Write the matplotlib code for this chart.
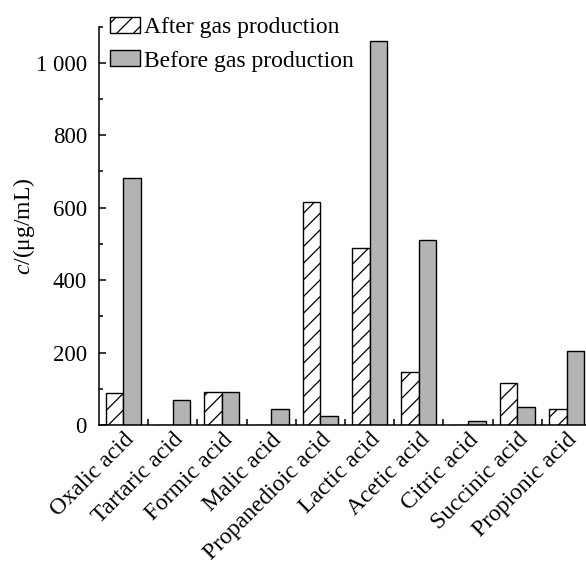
import numpy as np
import matplotlib

matplotlib.use("Agg")
import matplotlib.pyplot as plt
from matplotlib.ticker import MultipleLocator, FuncFormatter

plt.rcParams["font.family"] = ["Liberation Serif", "DejaVu Serif"]
plt.rcParams["mathtext.fontset"] = "custom"
plt.rcParams["mathtext.it"] = "Liberation Serif:italic"
plt.rcParams["mathtext.rm"] = "Liberation Serif"
plt.rcParams["hatch.linewidth"] = 0.9

acids = ["Oxalic acid", "Tartaric acid", "Formic acid", "Malic acid",
         "Propanedioic acid", "Lactic acid", "Acetic acid", "Citric acid",
         "Succinic acid", "Propionic acid"]
after_gas = [89, 0, 90, 0, 616, 488, 147, 0, 115, 43]
before_gas = [682, 69, 90, 44, 25, 1059, 511, 12, 49, 204]

x = np.arange(len(acids))
w = 0.355
fs = 17

W, H = 586, 563
fig = plt.figure(figsize=(W / 100, H / 100), dpi=100)
left, right, bottom, top = 98.8, 591.2, 425, 26.5
ax = fig.add_axes([left / W, 1 - bottom / H, (right - left) / W, (bottom - top) / H])

ax.bar(x - w / 2, after_gas, w, facecolor="white", edgecolor="black",
       linewidth=1, hatch="//", label="After gas production")
ax.bar(x + w / 2, before_gas, w, facecolor="#b3b3b3", edgecolor="black",
       linewidth=1, label="Before gas production")

ax.set_xlim(-0.5, 9.5)
ax.set_ylim(0, 1100)
ax.spines["top"].set_visible(False)
ax.spines["right"].set_visible(False)
for s in ("left", "bottom"):
    ax.spines[s].set_linewidth(1.1)

ax.yaxis.set_major_locator(MultipleLocator(200))
ax.yaxis.set_minor_locator(MultipleLocator(100))
ax.yaxis.set_major_formatter(FuncFormatter(
    lambda v, p: f"{int(v):,}".replace(",", " ")))
ax.tick_params(axis="y", which="major", direction="in", length=5, width=1.1,
               labelsize=16.5, pad=8.5)
ax.tick_params(axis="y", which="minor", direction="in", length=3, width=1.1)

ax.set_xticks(x)
ax.set_xticklabels(acids, rotation=45, ha="right", rotation_mode="anchor",
                   fontsize=fs)
ax.set_xticks(x[:-1] + 0.5, minor=True)
ax.tick_params(axis="x", which="major", length=0, pad=3)
ax.tick_params(axis="x", which="minor", direction="in", length=4, width=1.1)

ax.set_ylabel(r"$c$/(μg/mL)", fontsize=fs, labelpad=-1)

ax.legend(loc="upper left", bbox_to_anchor=(110 / W, 1 - 17 / H),
          bbox_transform=fig.transFigure, frameon=False,
          fontsize=fs, handlelength=1.27, handleheight=0.68,
          handletextpad=0.17, labelspacing=0.5, borderaxespad=0,
          borderpad=0)

fig.savefig("out.png", dpi=100)
